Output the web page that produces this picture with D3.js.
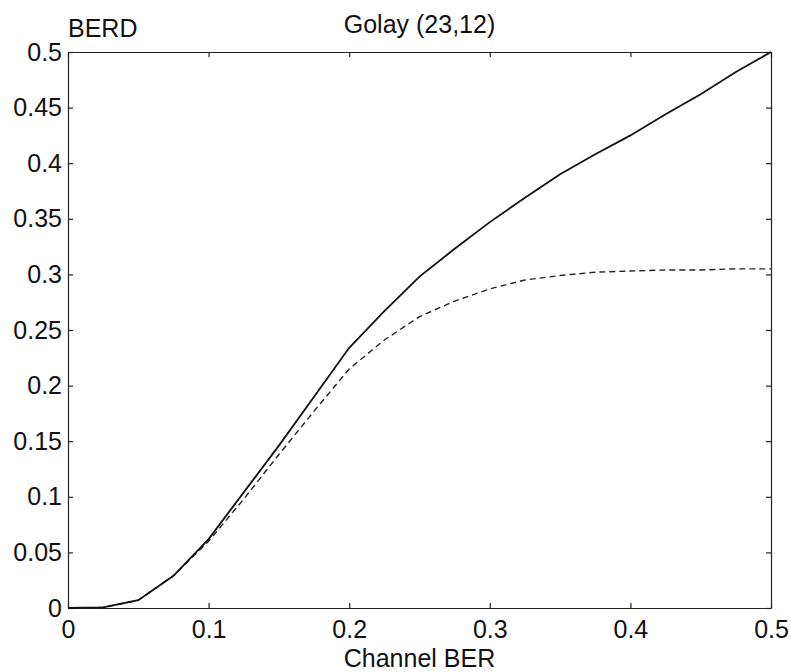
<!DOCTYPE html>
<html>
<head>
<meta charset="utf-8">
<script src="https://cdn.jsdelivr.net/npm/d3@7"></script>
<style>
  body { margin: 0; background: #fff; }
  svg text { font-family: "Liberation Sans", Arial, sans-serif; fill: #111; }
</style>
</head>
<body>
<svg width="791" height="672"></svg>
<script>
// channel BER samples
const berX = [0, 0.025, 0.05, 0.075, 0.1, 0.125, 0.15, 0.175, 0.2, 0.225, 0.25, 0.275, 0.3, 0.325, 0.35, 0.375, 0.4, 0.425, 0.45, 0.475, 0.5];
// solid curve
const berdSolid = [0, 0.0005, 0.007, 0.029, 0.062, 0.104, 0.146, 0.19, 0.234, 0.267, 0.298, 0.323, 0.347, 0.369, 0.39, 0.408, 0.425, 0.444, 0.462, 0.482, 0.5];
// dashed curve
const berdDashed = [0, 0.0005, 0.007, 0.029, 0.06, 0.098, 0.138, 0.177, 0.215, 0.241, 0.262, 0.276, 0.287, 0.295, 0.299, 0.302, 0.303, 0.304, 0.304, 0.305, 0.305];

const xTicks = [0, 0.1, 0.2, 0.3, 0.4, 0.5];
const yTicks = [0, 0.05, 0.1, 0.15, 0.2, 0.25, 0.3, 0.35, 0.4, 0.45, 0.5];

const margin = {top: 52, right: 20, bottom: 64, left: 68};
const width = 791 - margin.left - margin.right,
      height = 672 - margin.top - margin.bottom;

const svg = d3.select("svg");
const g = svg.append("g")
    .attr("transform", `translate(${margin.left}, ${margin.top})`);

const x = d3.scaleLinear().domain([0, 0.5]).range([0, width]);
const y = d3.scaleLinear().domain([0, 0.5]).range([height, 0]);

const fmt = d => d === 0 ? "0" : String(d);

// axes, ticks inside like matlab
g.append("g")
    .attr("transform", `translate(0, ${height})`)
    .call(d3.axisBottom(x).tickValues(xTicks).tickFormat(fmt).tickSizeInner(-5).tickSizeOuter(0).tickPadding(12));
g.append("g")
    .call(d3.axisLeft(y).tickValues(yTicks).tickFormat(fmt).tickSizeInner(-5).tickSizeOuter(0).tickPadding(6));
g.append("g")
    .call(d3.axisTop(x).tickValues(xTicks).tickFormat("").tickSizeInner(-5).tickSizeOuter(0));
g.append("g")
    .attr("transform", `translate(${width}, 0)`)
    .call(d3.axisRight(y).tickValues(yTicks).tickFormat("").tickSizeInner(-5).tickSizeOuter(0));

g.selectAll(".domain").attr("stroke", "#222").attr("stroke-width", 1.2);
g.selectAll(".tick line").attr("stroke", "#222").attr("stroke-width", 1.2);
g.selectAll(".tick text").attr("font-size", "25px").attr("fill", "#111");

const line = d3.line()
    .x((d, i) => x(berX[i]))
    .y(d => y(d));

g.append("path")
    .datum(berdDashed)
    .attr("fill", "none")
    .attr("stroke", "#222")
    .attr("stroke-width", 1.4)
    .attr("stroke-dasharray", "6,4")
    .attr("d", line);

g.append("path")
    .datum(berdSolid)
    .attr("fill", "none")
    .attr("stroke", "#111")
    .attr("stroke-width", 1.8)
    .attr("d", line);

// labels
svg.append("text")
    .attr("x", margin.left + width / 2)
    .attr("y", 33)
    .attr("text-anchor", "middle")
    .attr("font-size", "25px")
    .text("Golay (23,12)");

svg.append("text")
    .attr("x", margin.left)
    .attr("y", 37)
    .attr("font-size", "25px")
    .text("BERD");

svg.append("text")
    .attr("x", margin.left + width / 2)
    .attr("y", 667)
    .attr("text-anchor", "middle")
    .attr("font-size", "25px")
    .text("Channel BER");
</script>
</body>
</html>
